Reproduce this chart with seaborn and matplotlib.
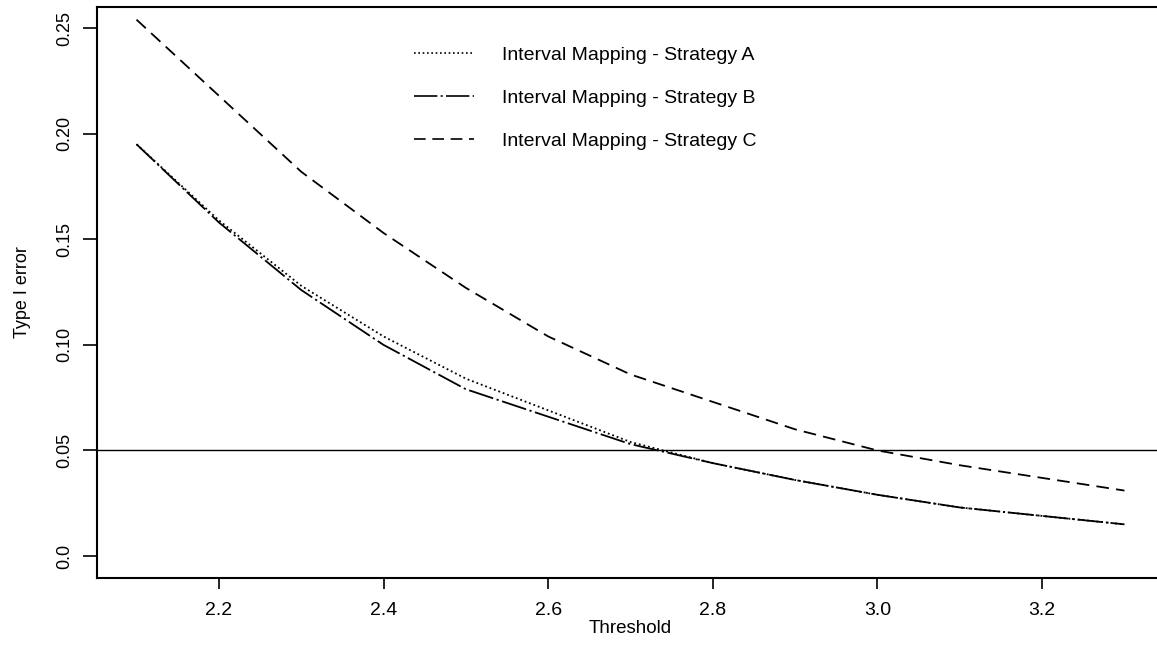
import numpy as np
import pandas as pd
import matplotlib
matplotlib.use("Agg")
import matplotlib.pyplot as plt
from matplotlib.lines import Line2D
import seaborn as sns

# Data
threshold = [2.1, 2.2, 2.3, 2.4, 2.5, 2.6, 2.7, 2.8, 2.9, 3.0, 3.1, 3.2, 3.3]
strategy_a = [0.195, 0.159, 0.128, 0.104, 0.084, 0.069, 0.054, 0.044, 0.036, 0.029, 0.023, 0.019, 0.015]
strategy_b = [0.195, 0.158, 0.126, 0.100, 0.079, 0.066, 0.053, 0.044, 0.036, 0.029, 0.023, 0.019, 0.015]
strategy_c = [0.254, 0.218, 0.182, 0.153, 0.127, 0.104, 0.086, 0.073, 0.060, 0.050, 0.043, 0.037, 0.031]
labels = ["Interval Mapping - Strategy A",
          "Interval Mapping - Strategy B",
          "Interval Mapping - Strategy C"]
alpha_level = 0.05

df = pd.concat([
    pd.DataFrame({"Threshold": threshold, "err": vals, "Strategy": lab})
    for vals, lab in zip([strategy_a, strategy_b, strategy_c], labels)
])

sns.set_theme(style="ticks")
plt.rcParams["font.family"] = ["Liberation Sans", "DejaVu Sans"]
plt.rcParams.update({"text.color": "black", "axes.labelcolor": "black",
                     "xtick.color": "black", "ytick.color": "black"})

W, H = 1157, 645
fig = plt.figure(figsize=(W / 100, H / 100), dpi=100)
ax = fig.add_axes([97 / W, (H - 578) / H, (1164 - 97) / W, (578 - 7) / H])

dashes = {labels[0]: (1, 1.6), labels[1]: (14, 2, 1.2, 2), labels[2]: (7, 4)}
sns.lineplot(data=df, x="Threshold", y="err", hue="Strategy", style="Strategy",
             palette=["black"] * 3, dashes=dashes, linewidth=1.3, ax=ax, legend=False)
ax.axhline(alpha_level, color="black", linewidth=1.0)

ax.set_xlim(2.052, 3.348)
ax.set_ylim(-0.0104, 0.260)
ax.set_xticks([2.2, 2.4, 2.6, 2.8, 3.0, 3.2])
ax.set_xticklabels(["2.2", "2.4", "2.6", "2.8", "3.0", "3.2"])
ax.set_yticks([0.0, 0.05, 0.10, 0.15, 0.20, 0.25])
ax.set_yticklabels(["0.0", "0.05", "0.10", "0.15", "0.20", "0.25"], rotation=90, va="center")
ax.tick_params(axis="x", labelsize=14, length=8, width=1.2, pad=9)
ax.tick_params(axis="y", labelsize=13, length=10, width=1.2, pad=7)
ax.set_xlabel("Threshold", fontsize=13.5, labelpad=1)
ax.set_ylabel("Type I error", fontsize=13, labelpad=18)
for s in ax.spines.values():
    s.set_linewidth(1.5)
    s.set_color("black")

handles = [Line2D([], [], color="black", linewidth=1.2, dashes=dashes[l]) for l in labels]
ax.legend(handles, labels, loc="upper left", bbox_to_anchor=((396 - 97) / 1067, 1 - (29 - 7) / 571),
          frameon=False, fontsize=14, handlelength=3.1, handletextpad=1.45, labelspacing=1.3)

fig.savefig("out.png", dpi=100)
